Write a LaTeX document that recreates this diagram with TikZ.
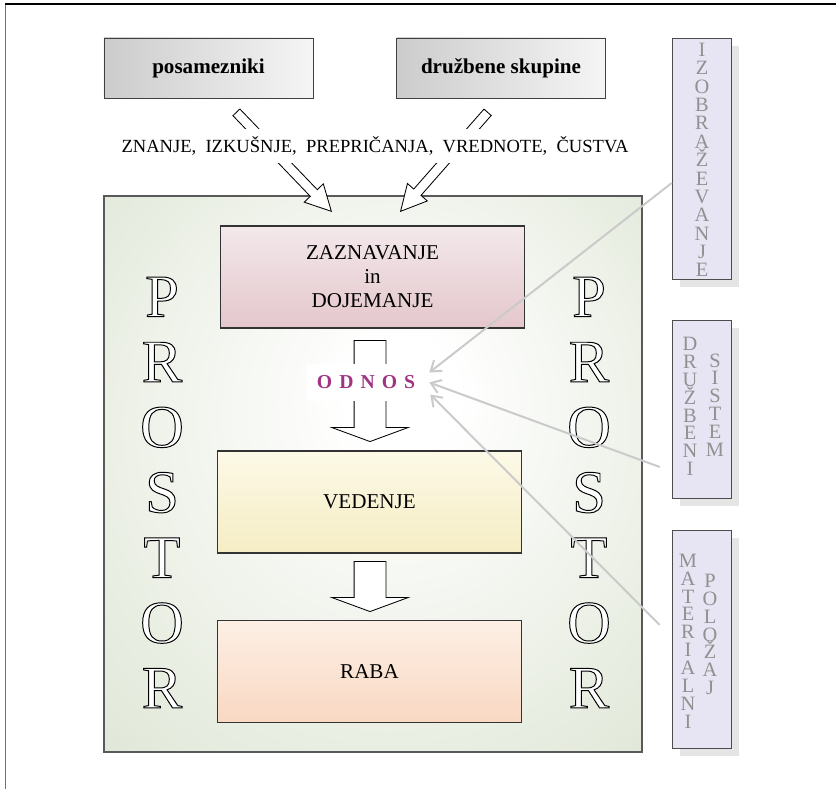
\documentclass[tikz,border=0pt]{standalone}
\usepackage{fontspec}
\setmainfont{Liberation Serif}
\usetikzlibrary{arrows.meta,positioning,calc,shapes.arrows,shadows}

\definecolor{panelgreen}{RGB}{224,231,215}
\definecolor{pinktop}{RGB}{243,232,235}
\definecolor{pinkbot}{RGB}{228,199,204}
\definecolor{yeltop}{RGB}{252,249,231}
\definecolor{yelbot}{RGB}{245,237,196}
\definecolor{peachtop}{RGB}{253,239,229}
\definecolor{peachbot}{RGB}{248,216,194}
\definecolor{lavender}{RGB}{231,229,243}
\definecolor{odnospurple}{RGB}{160,52,130}
\definecolor{linkgray}{RGB}{202,202,202}
\definecolor{lettergray}{RGB}{145,145,145}

\pgfdeclareradialshading{panelglow}{\pgfpoint{3bp}{8bp}}{color(0bp)=(white); color(5bp)=(white); color(38bp)=(panelgreen); color(50bp)=(panelgreen)}

% white letters with a black outline
\newcommand{\hollowletter}[1]{{\color{white}\special{pdf:literal direct 2 Tr 0.7 w 0 G}#1\special{pdf:literal direct 0 Tr}}}

\begin{document}
\begin{tikzpicture}[
  x=0.25mm, y=-0.25mm,
  font=\fontsize{15}{17}\selectfont,
  topbox/.style={draw=black!75, left color=black!20, right color=black!4, minimum width=52.25mm, minimum height=15mm, font=\fontsize{15}{18}\selectfont\bfseries},
  stagebox/.style={draw=black!80, line width=0.8pt, minimum width=76mm, minimum height=25.5mm, align=center},
  panel/.style={draw=black!65, line width=0.8pt, shade, shading=panelglow, minimum width=134.5mm, minimum height=139mm},
  sidebox/.style={draw=black!70, fill=lavender, minimum width=14.75mm, drop shadow={shadow xshift=2mm, shadow yshift=-2mm, fill=black!10, opacity=1}},
  sideletters/.style={text=lettergray, align=center, font=\fontsize{14.5}{12.7}\selectfont, inner sep=0pt},
  bigletters/.style={align=center, font=\fontsize{43}{46.4}\selectfont, inner sep=0pt},
  hollow/.style={single arrow, draw=black, fill=white, line width=0.6pt, inner xsep=0pt, single arrow head indent=0pt, anchor=tip},
  odnosbox/.style={fill=white, minimum width=29.5mm, minimum height=9.25mm, text=odnospurple, font=\fontsize{14}{16}\selectfont\bfseries},
  link/.style={draw=linkgray, line width=1.4pt, -{Straight Barb[length=2.4mm, width=3.4mm]}}
]
\useasboundingbox (0,0) rectangle (836,789);

% frame
\draw[black!55, line width=1.4pt] (5.5,789) -- (5.5,4);
\draw[black, line width=1pt] (5,4) -- (836,4);

\node[topbox] (posam) at (208.5,68) {posamezniki};
\node[topbox] (druzsk) at (501,68) {družbene skupine};

\node[panel] (space) at (373,474) {};
\foreach \col/\xx in {l/162, r/589}
  \node[bigletters] (prostor\col) at (\xx,492.5) {\hollowletter{P}\\\hollowletter{R}\\\hollowletter{O}\\\hollowletter{S}\\\hollowletter{T}\\\hollowletter{O}\\\hollowletter{R}};

\node[stagebox, top color=pinktop, bottom color=pinkbot] (zaz) at (372.5,277) {ZAZNAVANJE\\in\\DOJEMANJE};
\node[stagebox, top color=yeltop, bottom color=yelbot] (ved) at (369.5,502) {VEDENJE};
\node[stagebox, top color=peachtop, bottom color=peachbot] (raba) at (369.5,671.5) {RABA};

\node[hollow, rotate=-90, minimum height=25.25mm, inner ysep=3.875mm, single arrow head extend=5.6mm, single arrow tip angle=139.6] (arr1) at (370,442) {};
\node[odnosbox] (odnos) at (366,382.5) {O\kern5pt D\kern5pt N\kern5pt O\kern5pt S};
\node[hollow, rotate=-90, minimum height=12.5mm, inner ysep=3.875mm, single arrow head extend=5.6mm, single arrow tip angle=139.6] (arr2) at (370,612) {};

% arrows from the top boxes, cut by the text line
\node[hollow, rotate=-46.2, minimum height=34.3mm, inner ysep=1.1mm, single arrow head extend=2.1mm, single arrow tip angle=55] (inleft) at (332,212) {};
\node[hollow, rotate=-131.3, minimum height=32.95mm, inner ysep=1.1mm, single arrow head extend=2.1mm, single arrow tip angle=55] (inright) at (400,212) {};
\node[fill=white, font=\fontsize{13.2}{14}\selectfont, text height=8.8pt, text depth=0pt, inner ysep=8pt, inner xsep=2pt] (values) at (375,146) {ZNANJE,\enspace IZKUŠNJE,\enspace PREPRIČANJA,\enspace VREDNOTE,\enspace ČUSTVA};

\node[sidebox, minimum height=60.25mm] (izo) at (701.5,158.5) {};
\node[sidebox, minimum height=44.5mm] (sys) at (701.5,409) {};
\node[sidebox, minimum height=54.5mm] (pol) at (701.5,639) {};

\node[sideletters, font=\fontsize{14.5}{13.05}\selectfont] (izotxt) at (702,160) {I\\Z\\O\\B\\R\\A\\Ž\\E\\V\\A\\N\\J\\E};
\node[sideletters] (drtxt) at (690,406.5) {D\\R\\U\\Ž\\B\\E\\N\\I};
\node[sideletters] (sisttxt) at (715,405) {S\\I\\S\\T\\E\\M};
\node[sideletters] (mattxt) at (688,641) {M\\A\\T\\E\\R\\I\\A\\L\\N\\I};
\node[sideletters] (poltxt) at (710,634.5) {P\\O\\L\\O\\Ž\\A\\J};

\coordinate (izoout) at ($(izo.west)+(0,24.5)$);
\coordinate (sysout) at ($(sys.west)+(-12,58)$);
\coordinate (polout) at ($(pol.west)+(-12,-14)$);
\draw[link] (izoout) -- ($(odnos.east)+(4,-10)$);
\draw[link] (sysout) -- ($(odnos.east)+(4,0)$);
\draw[link] (polout) -- ($(odnos.east)+(5,12)$);
\end{tikzpicture}
\end{document}
